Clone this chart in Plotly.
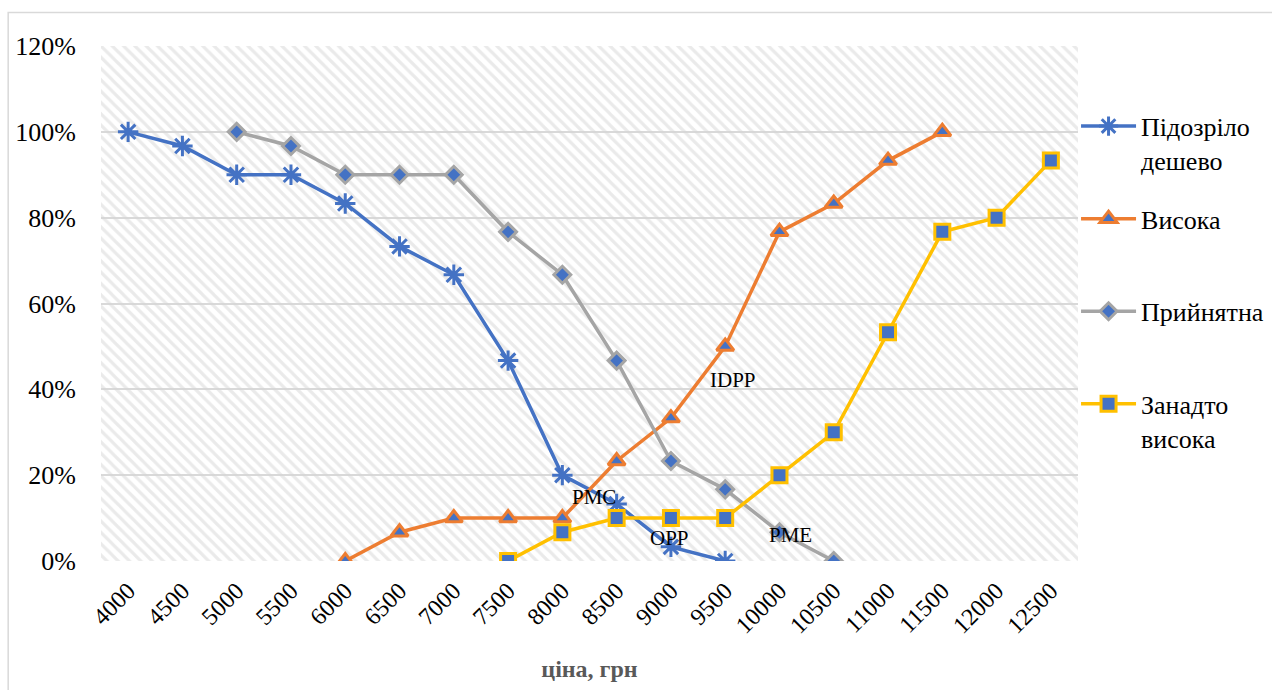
import plotly.graph_objects as go

prices = ["4000", "4500", "5000", "5500", "6000", "6500", "7000", "7500", "8000",
          "8500", "9000", "9500", "10000", "10500", "11000", "11500", "12000", "12500"]

too_cheap = [1.00, 0.967, 0.90, 0.90, 0.833, 0.733, 0.667, 0.467, 0.20, 0.133, 0.033, 0.0,
             None, None, None, None, None, None]
high = [None, None, None, None, 0.0, 0.067, 0.10, 0.10, 0.10, 0.233, 0.333, 0.50,
        0.767, 0.833, 0.933, 1.00, None, None]
acceptable = [None, None, 1.00, 0.967, 0.90, 0.90, 0.90, 0.767, 0.667, 0.467, 0.233, 0.167,
              0.067, 0.0, None, None, None, None]
too_high = [None, None, None, None, None, None, None, 0.0, 0.067, 0.10, 0.10, 0.10,
            0.20, 0.30, 0.533, 0.767, 0.80, 0.933]

names = ["Підозріло<br>дешево", "Висока<br> ", "Прийнятна<br> ", "Занадто<br>висока"]
colors = ["#4472C4", "#ED7D31", "#A5A5A5", "#FFC000"]
symbols = ["asterisk-open", "triangle-up", "diamond", "square"]
sizes = [17, 15, 13, 15]
series = [too_cheap, high, acceptable, too_high]

labels = ["PMC", "OPP", "IDPP", "PME"]
label_x = [8.58, 9.97, 11.15, 12.2]
label_y = [0.149, 0.054, 0.422, 0.061]

FONT = "Liberation Serif, Times New Roman, serif"

fig = go.Figure()

# hatched plot background (decorative)
fig.add_trace(go.Bar(x=[0.5], y=[1], width=[1], xaxis="x", yaxis="y",
                     marker=dict(color="rgba(0,0,0,0)", line=dict(width=0),
                                 pattern=dict(shape="\\", fgcolor="#d6d6d6",
                                              bgcolor="rgba(0,0,0,0)", size=8, solidity=0.4)),
                     showlegend=False, hoverinfo="skip"))

for i, (nm, col, sym, sz, vals) in enumerate(zip(names, colors, symbols, sizes, series)):
    if sym == "asterisk-open":
        marker = dict(symbol=sym, size=sz, color=col, line=dict(color=col, width=3))
    else:
        marker = dict(symbol=sym, size=sz, color="#4472C4", line=dict(color=col, width=3))
    fig.add_trace(go.Scatter(x=prices, y=vals, name=nm, mode="lines+markers",
                             xaxis="x2", yaxis="y2", legendgroup=f"g{i}",
                             line=dict(color=col, width=3.5), marker=marker,
                             connectgaps=False))

annotations = [dict(x=lx, y=ly, xref="x2", yref="y2", text=t, showarrow=False,
                    font=dict(family=FONT, size=21, color="black"))
               for t, lx, ly in zip(labels, label_x, label_y)]

fig.update_layout(
    width=1272, height=690, autosize=False,
    margin=dict(l=101, r=194, t=46, b=129, autoexpand=False),
    paper_bgcolor="white", plot_bgcolor="white",
    font=dict(family=FONT, size=24, color="black"),
    bargap=0,
    xaxis=dict(range=[0, 1], visible=False, fixedrange=True),
    yaxis=dict(range=[0, 1], visible=False, fixedrange=True),
    xaxis2=dict(type="category", overlaying="x", anchor="y2", side="bottom",
                range=[-0.5, 17.5], showgrid=False, tickangle=-45,
                showline=False, ticks="", ticklabelstandoff=10,
                tickfont=dict(size=24, family=FONT, color="black"),
                title=dict(text="<b>ціна, грн</b>", standoff=22,
                           font=dict(size=24, family=FONT, color="#595959"))),
    yaxis2=dict(overlaying="y", anchor="x2", side="left", range=[0, 1.2],
                dtick=0.2, tickformat=".0%", showgrid=True, gridcolor="#d9d9d9",
                gridwidth=1.5, zeroline=False, ticks="", ticklabelstandoff=24,
                tickfont=dict(size=26, family=FONT, color="black")),
    legend=dict(x=0.998, xanchor="left", y=0.89, yanchor="top",
                font=dict(size=26, family=FONT, color="black"),
                valign="top", tracegroupgap=22, itemwidth=55,
                bgcolor="rgba(0,0,0,0)"),
    annotations=annotations,
    shapes=[dict(type="rect", xref="paper", yref="paper",
                 x0=-0.095, x1=1.25, y0=-0.26, y1=1.065,
                 line=dict(color="#d9d9d9", width=1.5), fillcolor="rgba(0,0,0,0)",
                 layer="below")],
)

fig.write_html("out.html",
               config={"responsive": False, "displayModeBar": False},
               post_script="document.body.style.margin='0';document.body.style.overflow='hidden';")
